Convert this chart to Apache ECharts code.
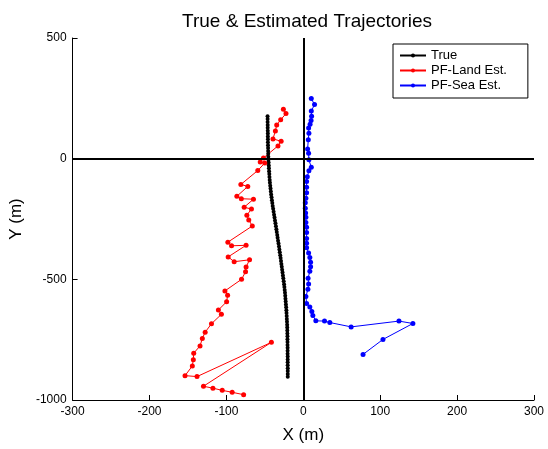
<!DOCTYPE html>
<html><head><meta charset="utf-8">
<script src="https://cdn.jsdelivr.net/npm/echarts@6/dist/echarts.min.js"></script>
<style>html,body{margin:0;padding:0;background:#fff}#c{width:548px;height:449px}</style>
</head><body><div id="c"></div>
<script>
var xTicks = [-300,-200,-100,0,100,200,300];
var yTicks = [-1000,-500,0,500];

var trueY = [176,164,152,140,128,116,104,92,80,68,56,44,32,20,8,-4,-16,-28,-40,-52,-64,-76,-88,-100,-112,-124,-136,-148,-160,-172,-184,-196,-208,-220,-232,-244,-256,-268,-280,-292,-304,-316,-328,-340,-352,-364,-376,-388,-400,-412,-424,-436,-448,-460,-472,-484,-496,-508,-520,-532,-544,-556,-568,-580,-592,-604,-616,-628,-640,-652,-664,-676,-688,-700,-712,-724,-736,-748,-760,-772,-784,-796,-808,-820,-832,-844,-856,-868,-880,-892,-904];
var trueX = [-46.5,-46.4,-46.4,-46.3,-46.3,-46.2,-46.1,-46.1,-46.0,-46.0,-45.9,-45.8,-45.7,-45.6,-45.5,-45.3,-45.1,-44.9,-44.7,-44.5,-44.2,-44.0,-43.7,-43.4,-43.0,-42.6,-42.2,-41.8,-41.3,-40.8,-40.3,-39.8,-39.2,-38.6,-38.0,-37.4,-36.8,-36.2,-35.6,-35.0,-34.5,-33.9,-33.4,-32.8,-32.2,-31.6,-31.1,-30.6,-30.0,-29.5,-29.0,-28.5,-28.0,-27.5,-27.0,-26.5,-26.0,-25.5,-25.0,-24.6,-24.2,-23.8,-23.5,-23.2,-22.9,-22.6,-22.3,-22.0,-21.8,-21.6,-21.4,-21.2,-21.0,-20.9,-20.8,-20.7,-20.6,-20.6,-20.5,-20.5,-20.4,-20.4,-20.4,-20.3,-20.3,-20.3,-20.3,-20.2,-20.2,-20.2,-20.2];

var landX = [-25.9,-22.5,-29.4,-34.6,-36.3,-39.4,-28.8,-32.9,-51.8,-56,-50.1,-59.2,-81.2,-72.2,-86.4,-80.6,-64.8,-76.9,-67.4,-73.4,-70.9,-66.3,-98.1,-93.3,-74.4,-97.7,-89.9,-69.9,-74.4,-75.1,-80.3,-101.9,-98.4,-99.7,-110.4,-106.5,-119.4,-127.6,-131.3,-134.3,-142.5,-143,-144.3,-153.8,-138.2,-41.5,-129.8,-117.5,-105.4,-92.5,-77.6];
var landY = [205,187,161,139,115,82,72,53,3,-14,-18,-49,-107,-115,-156,-166,-168,-201,-209,-234,-254,-279,-346,-361,-359,-407,-427,-419,-449,-469,-500,-548,-566,-593,-627,-645,-684,-719,-745,-776,-806,-833,-859,-899,-903,-761,-943,-951,-960,-968,-978];

var seaX = [10.4,14.6,10.4,10.8,10.1,8.8,6.9,7.3,6.5,5.6,6.9,7.3,10.4,7.3,5.2,4.3,4.3,4.3,3.4,2.6,2.6,3.0,3.4,3.4,4.3,4.3,4.3,4.3,4.3,6.9,8.5,9.5,9.5,8.5,6.2,6.9,6.0,3.4,4.3,8.5,11.1,12.4,16.3,27.6,34.5,62.2,124.4,142.5,103.6,77.7];
var seaY = [249,224,197,176,158,143,127,105,78,40,22,-5,-36,-50,-75,-95,-118,-141,-164,-183,-205,-225,-243,-265,-284,-306,-331,-350,-369,-391,-410,-429,-448,-467,-495,-519,-541,-571,-600,-615,-633,-650,-672,-673,-679,-697,-673,-683,-749,-811];

var names = ['True','PF-Land Est.','PF-Sea Est.'];
var colors = ['#000000','#ff0000','#0000ff'];

function pairs(xs, ys){ return xs.map(function(v,i){ return [v, ys[i]]; }); }

var font = 'Liberation Sans, Arial, sans-serif';
var chart = echarts.init(document.getElementById('c'), null, {renderer:'canvas'});
function mkAxis(extra){
  return Object.assign({
    splitLine:{show:false},
    axisLine:{show:true,onZero:false,lineStyle:{color:'#000',width:1}},
    axisTick:{show:true,inside:true,length:5,lineStyle:{color:'#000'}},
    axisLabel:{color:'#000',fontSize:12,fontFamily:font,margin:6,formatter:function(v){return String(v);}},
    nameTextStyle:{color:'#000',fontSize:17,fontFamily:font}
  }, extra);
}
chart.setOption({
  animation:false,
  backgroundColor:'#fff',
  title:{text:'True & Estimated Trajectories',left:302,top:7,textAlign:'center',
    textStyle:{fontSize:19,fontWeight:'normal',color:'#000',fontFamily:font}},
  grid:{left:71,right:14,top:38,bottom:45,containLabel:false},
  xAxis:mkAxis({type:'value',min:xTicks[0],max:xTicks[xTicks.length-1],interval:100,
    name:'X (m)',nameLocation:'middle',nameGap:27}),
  yAxis:mkAxis({type:'value',min:yTicks[0],max:yTicks[yTicks.length-1],interval:500,
    name:'Y (m)',nameLocation:'middle',nameGap:39,nameRotate:90}),
  legend:{data:names,orient:'vertical',left:393,top:44,itemWidth:26,itemHeight:5,itemGap:2,
    padding:[5,21,6,6],backgroundColor:'#fff',borderColor:'#000',borderWidth:1,borderRadius:0,
    textStyle:{color:'#000',fontSize:13,fontFamily:font}},
  series:[
    {name:names[0],type:'line',data:pairs(trueX,trueY),symbol:'circle',symbolSize:4,
      lineStyle:{color:colors[0],width:1},itemStyle:{color:colors[0]},z:3,
      markLine:{silent:true,symbol:['none','none'],label:{show:false},
        lineStyle:{color:'#000',width:2,type:'solid'},
        data:[{xAxis:0},{yAxis:0}]}},
    {name:names[1],type:'line',data:pairs(landX,landY),symbol:'circle',symbolSize:5,
      lineStyle:{color:colors[1],width:1},itemStyle:{color:colors[1]},z:3},
    {name:names[2],type:'line',data:pairs(seaX,seaY),symbol:'circle',symbolSize:5,
      lineStyle:{color:colors[2],width:1},itemStyle:{color:colors[2]},z:3}
  ]
});
</script></body></html>
